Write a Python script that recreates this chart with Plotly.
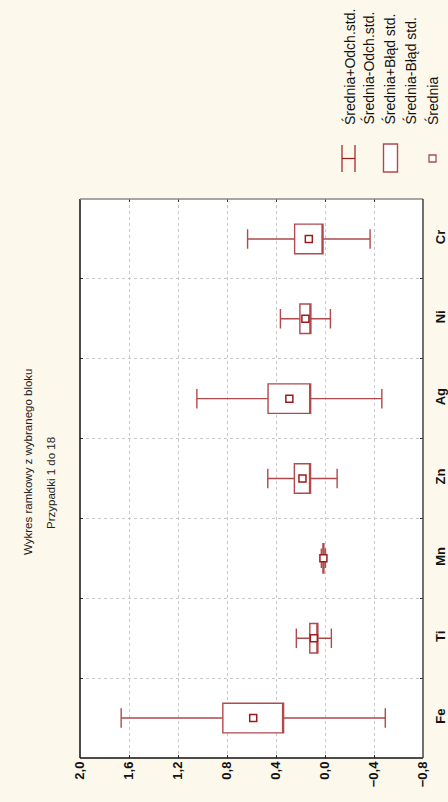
import plotly.graph_objects as go

# ---- data ----
categories = ["Fe", "Ti", "Mn", "Zn", "Ag", "Ni", "Cr"]
means = [0.586, 0.091, 0.013, 0.184, 0.291, 0.160, 0.132]
std_dev = [1.078, 0.143, 0.017, 0.283, 0.755, 0.204, 0.500]
std_err = [0.248, 0.033, 0.004, 0.066, 0.174, 0.045, 0.116]
value_ticks = [2.0, 1.6, 1.2, 0.8, 0.4, 0.0, -0.4, -0.8]
legend_labels = ["Średnia+Odch.std.", "Średnia-Odch.std.",
                 "Średnia+Błąd std.", "Średnia-Błąd std.", "Średnia"]

W, H = 448, 802
L, R, T, B = 80, 423, 199, 758

def px(x):
    return (x - L) / (R - L)

def py(y):
    return (B - y) / (B - T)

BOX_LINE = "#B04A4C"
DARK_RED = "#9B1B1E"
BG = "#FDF8EC"

q1 = [m - s for m, s in zip(means, std_err)]
q3 = [m + s for m, s in zip(means, std_err)]
lo = [m - s for m, s in zip(means, std_dev)]
hi = [m + s for m, s in zip(means, std_dev)]

fig = go.Figure()
fig.add_trace(go.Box(
    y=categories, q1=q1, median=q1, q3=q3, lowerfence=lo, upperfence=hi,
    orientation="h", boxpoints=False, width=0.37, whiskerwidth=0.66,
    fillcolor="white", line=dict(color=BOX_LINE, width=1.4),
    showlegend=False, hoverinfo="skip"))
fig.add_trace(go.Scatter(
    x=means, y=categories, mode="markers",
    marker=dict(symbol="square", size=7, color="white",
                line=dict(color=DARK_RED, width=1.5)),
    showlegend=False, hoverinfo="skip"))

shapes = [
    dict(type="line", xref="paper", yref="paper", x0=0, x1=0, y0=0, y1=1,
         line=dict(color="#111111", width=1.5)),
    dict(type="line", xref="paper", yref="paper", x0=0, x1=1, y0=0, y1=0,
         line=dict(color="#111111", width=1.5)),
    dict(type="line", xref="paper", yref="paper", x0=0, x1=1, y0=1, y1=1,
         line=dict(color="#8a8a8a", width=1.5)),
    dict(type="line", xref="paper", yref="paper", x0=1, x1=1, y0=0, y1=1,
         line=dict(color="#444444", width=1.5)),
]
# legend glyphs
shapes += [
    dict(type="line", xref="paper", yref="paper", x0=px(342), x1=px(342), y0=py(145), y1=py(172),
         line=dict(color=DARK_RED, width=1.2)),
    dict(type="line", xref="paper", yref="paper", x0=px(355), x1=px(355), y0=py(145), y1=py(172),
         line=dict(color=DARK_RED, width=1.2)),
    dict(type="line", xref="paper", yref="paper", x0=px(342), x1=px(355), y0=py(158.5), y1=py(158.5),
         line=dict(color=DARK_RED, width=1.2)),
    dict(type="rect", xref="paper", yref="paper", x0=px(383.5), x1=px(397.5), y0=py(144), y1=py(172),
         fillcolor="white", line=dict(color=BOX_LINE, width=1.4)),
    dict(type="rect", xref="paper", yref="paper", x0=px(429), x1=px(436), y0=py(155), y1=py(162),
         fillcolor="white", line=dict(color=BOX_LINE, width=1.3)),
]

annotations = [
    dict(text="Wykres ramkowy z wybranego bloku", textangle=-90, x=px(28), y=py(462),
         xref="paper", yref="paper", showarrow=False, xanchor="center", yanchor="middle",
         font=dict(family="Liberation Sans, Arial", size=11.5, color="#222")),
    dict(text="Przypadki 1 do 18", textangle=-90, x=px(51), y=py(483),
         xref="paper", yref="paper", showarrow=False, xanchor="center", yanchor="middle",
         font=dict(family="Liberation Sans, Arial", size=11.5, color="#222")),
]
leg_x = [349, 368, 389, 410, 432]
for lab, lx in zip(legend_labels, leg_x):
    annotations.append(dict(text=lab, textangle=-90, x=px(lx), y=py(127),
                            xref="paper", yref="paper", showarrow=False,
                            xanchor="center", yanchor="bottom",
                            font=dict(family="Liberation Sans, Arial", size=14, color="#111")))

fig.update_layout(
    width=W, height=H, autosize=False,
    margin=dict(l=L, r=W - R, t=T, b=H - B, pad=0, autoexpand=False),
    paper_bgcolor=BG, plot_bgcolor="white",
    separators=", ",
    font=dict(family="Liberation Sans, Arial", color="#111"),
    shapes=shapes, annotations=annotations,
    xaxis=dict(range=[2.0, -0.8], tickvals=value_ticks, tickformat=".1f",
               tickangle=-90, showgrid=True, gridcolor="#c8c8c8", griddash="dot",
               gridwidth=1, zeroline=False, showline=False, automargin=False,
               ticks="inside", ticklen=3, tickcolor="#333", mirror="ticks",
               tickfont=dict(size=13, family="Liberation Sans, Arial", weight="bold")),
    yaxis=dict(type="category", categoryorder="array", categoryarray=categories,
               range=[-0.5, len(categories) - 0.5], side="right", tickangle=-90,
               tickson="boundaries", showgrid=True, gridcolor="#c8c8c8", griddash="dot",
               gridwidth=1, zeroline=False, showline=False, automargin=False,
               ticks="inside", ticklen=3, tickcolor="#333", mirror="ticks",
               ticklabelstandoff=8,
               tickfont=dict(size=13, family="Liberation Sans, Arial", weight="bold")),
)

fig.write_html("out.html")
